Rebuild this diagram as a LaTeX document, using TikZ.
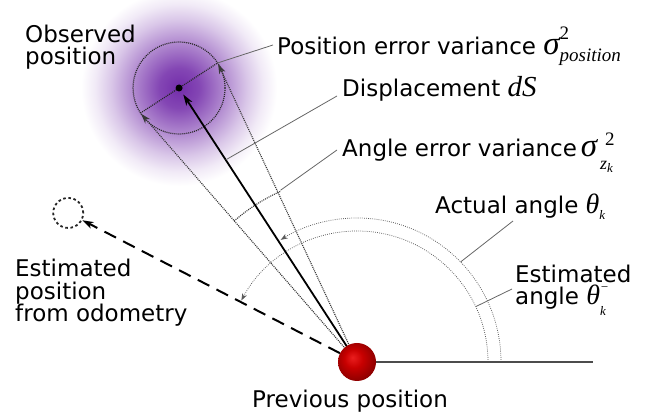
\documentclass[tikz,border=0pt]{standalone}
\usepackage{fontspec}
\setmainfont{DejaVu Sans}
\newfontfamily\serif{Liberation Serif}
\usetikzlibrary{arrows.meta,calc,backgrounds}
\definecolor{purp}{RGB}{115,45,170}
\definecolor{redhi}{RGB}{235,30,30}
\definecolor{redmid}{RGB}{200,0,0}
\definecolor{redlo}{RGB}{140,0,0}
\pgfdeclareradialshading{glow}{\pgfpoint{0bp}{0bp}}{color(0bp)=(purp); color(5bp)=(purp!88); color(11bp)=(purp!58); color(17bp)=(purp!27); color(21bp)=(purp!10); color(24.5bp)=(white); color(50bp)=(white)}
\pgfdeclareradialshading{redball}{\pgfpoint{-6bp}{6bp}}{color(0bp)=(redhi); color(12bp)=(redmid); color(28bp)=(redlo); color(50bp)=(redlo)}
\newcommand\bigsig{{\serif\itshape\fontsize{33}{33}\selectfont σ}}
\newcommand\bigth{{\serif\itshape\fontsize{28}{28}\selectfont θ}}
\newcommand\smser[1]{{\serif\fontsize{19}{19}\selectfont #1}}
\newcommand\smit[1]{{\serif\itshape\fontsize{19}{19}\selectfont #1}}
\newcommand\tinyit[1]{{\serif\itshape\fontsize{13}{13}\selectfont #1}}
\begin{document}
\begin{tikzpicture}[x=1pt,y=1pt,
  lab/.style={font=\fontsize{23}{22.5}\selectfont, inner sep=0pt, anchor=base west, align=left},
  leader/.style={draw=black!60, line width=0.8pt},
  dotline/.style={draw=black!85, line width=1.2pt, dash pattern=on 1pt off 1pt},
  conedot/.style={draw=black!78, line width=1.15pt, dash pattern=on 1pt off 1pt},
  thindot/.style={draw=black!65, line width=0.75pt, dash pattern=on 0.8pt off 1.3pt},
  bigtip/.style={-{Stealth[length=10pt,width=6.5pt,inset=3pt]}},
  smalltip/.style={-{Stealth[length=7pt,width=5pt,inset=2pt]}},
  ballnode/.style={circle, minimum size=38pt, inner sep=0pt, shading=redball},
  dotnode/.style={circle, fill=black, minimum size=7pt, inner sep=0pt},
  estnode/.style={circle, minimum size=30pt, inner sep=0pt, draw=black!85, line width=1.8pt, dash pattern=on 2.6pt off 2.6pt},
]
\useasboundingbox (0,0) rectangle (662,419);
\coordinate (O) at (357,57);
\coordinate (C) at ($(O)+(123:326.7)$);
\coordinate (R) at ($(C)+(33:46)$);
\coordinate (L) at ($(C)+(213:46)$);
\coordinate (Eo) at ($(O)+(152.7:325)$);
\coordinate (hend) at (593,57);

% nodes
\node[ballnode] (prev) at (O) {};
\node[dotnode] (obs) at (C) {};
\node[estnode] (est) at (Eo) {};

% labels (multi-line labels are anchored at the baseline of their last line)
\node[lab] (obslab) at (25,354) {Observed\\position};
\node[lab] (poslab) at (277,364) {Position error variance \bigsig\rlap{\raisebox{15pt}{\smser{2}}}\raisebox{-7pt}{\smit{position}}};
\node[lab] (displab) at (342,322) {Displacement {\serif\itshape\fontsize{29}{29}\selectfont dS}};
\node[lab] (anglab) at (342,262) {Angle error variance\,\bigsig\rlap{\raisebox{11pt}{\kern8pt\smser{2}}}\raisebox{-13pt}{\kern3pt{\serif\itshape\fontsize{18}{18}\selectfont z}\raisebox{-3pt}{\tinyit{k}}}};
\node[lab] (actlab) at (435,205) {Actual angle \bigth\raisebox{-6pt}{\tinyit{k}}};
\node[lab] (estlab) at (515,114) {Estimated\\angle \bigth\rlap{\raisebox{13pt}{\tinyit{−}}}\raisebox{-11pt}{\tinyit{k}}};
\node[lab] (odolab) at (15,97) {Estimated\\position\\from odometry};
\node[lab] (prevlab) at (252,11) {Previous position};

\coordinate (posend) at ($(poslab.base west)+(-4,10)$);
\coordinate (dispend) at ($(displab.base west)+(-5,1)$);
\coordinate (angend) at ($(anglab.base west)+(-5,7)$);
\coordinate (actend) at (513,198);
\coordinate (estend) at (512,130);
\coordinate (dispstart) at ($(O)+(123:241)$);
\coordinate (angstart) at ($(O)+(114:188)$);
\coordinate (actstart) at ($(O)+(44:144)$);
\coordinate (eststart) at ($(O)+(25:131)$);

\begin{pgfonlayer}{background}
  \shade[shading=glow] (C) circle[radius=100];
  \draw[dotline] (C) circle[radius=46];
  \draw[dotline] (L) -- (R);
  \draw[conedot, bigtip, shorten >=1pt] (prev.center) -- (L);
  \draw[conedot, bigtip, shorten >=1pt] (prev.center) -- (R);
  \draw[conedot] ($(O)+(131.1:187)$) arc[start angle=131.1, end angle=114, radius=187];
  \draw[thindot, smalltip] ($(O)+(0:144)$) arc[start angle=0, end angle=122, radius=144];
  \draw[thindot, smalltip] ($(O)+(0:131)$) arc[start angle=0, end angle=152, radius=131];
  \draw[black!70, line width=1.2pt] (prev.center) -- (hend);
  \draw[black, line width=2pt, dash pattern=on 13pt off 8pt, -{Stealth[length=11pt,width=7pt,inset=3pt]}] (prev) -- (est);
  \draw[black, line width=1.8pt, -{Stealth[length=11pt,width=7pt,inset=3pt]}, shorten >=4pt] (prev.center) -- (obs);
  \draw[leader] (R) -- (posend);
  \draw[leader] (dispstart) -- (dispend);
  \draw[leader] (angstart) -- (angend);
  \draw[leader] (actstart) -- (actend);
  \draw[leader] (eststart) -- (estend);
\end{pgfonlayer}
\end{tikzpicture}
\end{document}
